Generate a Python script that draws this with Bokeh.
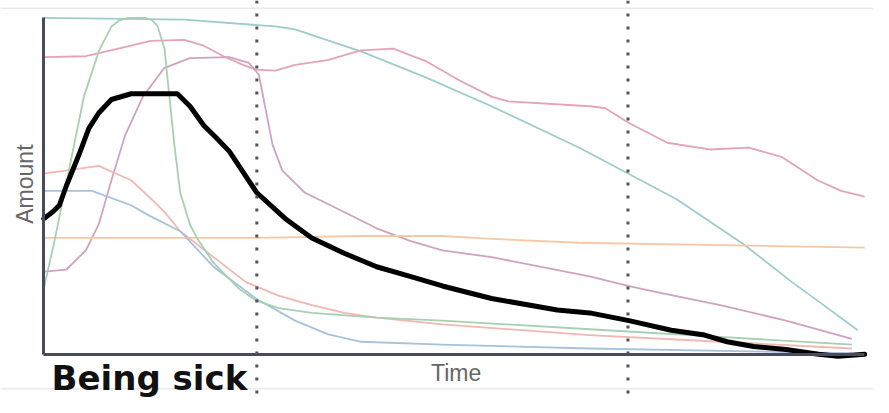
from bokeh.plotting import figure
from bokeh.models import Range1d, LinearAxis, FixedTicker, Span, Label
from bokeh.embed import file_html
from bokeh.resources import INLINE

# Series: time (0-100) and amount (0-100)
black_t = [0, 1.08, 1.91, 2.75, 4.31, 5.50, 6.70, 8.25, 10.65, 16.27, 17.82, 19.50, 21.05, 22.61,
           25.96, 29.43, 32.66, 36.60, 40.55, 44.62, 48.56, 54.55, 62.56, 66.51, 71.29, 76.44,
           80.50, 83.25, 86.48, 90.43, 94.38, 96.77, 100]
black_a = [40.29, 42.29, 44.29, 50.0, 59.43, 67.14, 71.71, 75.71, 77.43, 77.43, 73.71, 68.0, 64.29, 60.29,
           48.0, 40.29, 34.57, 30.0, 26.0, 23.14, 20.29, 16.57, 13.14, 12.29, 10.0, 7.14,
           5.71, 3.71, 2.29, 1.43, 0.0, -0.57, 0.0]

green_t = [0, 1.32, 2.51, 3.71, 4.90, 6.70, 8.25, 9.20, 10.29, 12.32, 13.20, 13.88, 14.71, 15.31, 15.91,
           16.63, 17.82, 18.66, 20.69, 23.80, 25.84, 28.59, 32.66, 40.55, 48.56, 66.51, 82.42, 98.44]
green_a = [19.43, 33.71, 48.0, 62.29, 76.57, 90.0, 97.43, 99.2, 100.0, 100.0, 99.3, 97.43, 90.86, 76.57,
           62.29, 48.0, 38.57, 34.57, 27.14, 19.43, 16.0, 13.71, 12.29, 10.86, 10.0, 7.43, 5.14, 2.86]

teal_t = [0, 17.11, 28.23, 30.62, 38.64, 46.53, 54.55, 65.19, 71.17, 77.15, 85.17, 91.15, 94.38, 99.16]
teal_a = [100.0, 99.43, 97.43, 96.57, 90.0, 82.29, 73.71, 61.43, 53.71, 46.0, 32.86, 21.43, 15.71, 7.14]

rose_t = [0, 5.14, 9.09, 13.04, 17.11, 19.50, 21.89, 24.28, 25.84, 28.23, 30.62, 34.57, 38.64, 42.58,
          46.53, 50.60, 54.55, 56.58, 66.51, 68.42, 71.17, 75.96, 81.10, 85.89, 89.95, 94.26, 97.13, 100]
rose_a = [88.29, 88.57, 90.86, 93.14, 93.43, 91.71, 88.57, 86.0, 84.57, 84.29, 86.0, 87.43, 90.29, 90.86,
          87.14, 81.43, 76.57, 75.14, 73.71, 73.14, 68.86, 62.86, 60.86, 61.43, 58.57, 51.71, 48.57, 46.86]

mauve_t = [0, 2.75, 5.14, 6.70, 8.25, 9.93, 12.08, 14.71, 17.82, 22.61, 25.0, 26.20, 27.03, 27.87,
           29.07, 30.62, 31.82, 36.60, 40.55, 44.62, 48.56, 54.55, 66.51, 71.17, 74.52, 82.42, 90.43, 98.44]
mauve_a = [24.57, 25.14, 30.86, 38.57, 51.71, 65.14, 76.57, 85.14, 88.0, 88.29, 86.57, 83.14, 72.86, 62.29,
           54.57, 50.86, 48.0, 42.29, 37.43, 33.71, 30.86, 28.86, 23.14, 20.29, 18.57, 14.57, 10.0, 4.57]

orange_t = [0, 25.96, 38.64, 48.56, 54.55, 65.19, 100]
orange_a = [34.57, 34.57, 35.14, 35.14, 34.29, 33.14, 31.71]

salmon_t = [0, 6.70, 10.65, 12.68, 14.71, 16.63, 20.69, 24.64, 28.59, 32.66, 36.60, 40.55, 48.56,
            66.51, 82.42, 98.44]
salmon_a = [53.71, 56.0, 51.71, 47.14, 42.29, 36.57, 28.86, 21.43, 17.43, 14.57, 12.29, 10.86, 8.86,
            5.71, 3.71, 1.71]

blue_t = [0, 5.86, 10.65, 12.68, 16.63, 20.69, 25.84, 30.62, 34.57, 38.64, 48.56, 66.51, 98.44]
blue_a = [48.57, 48.57, 44.29, 41.43, 36.57, 26.0, 16.57, 10.0, 6.0, 3.71, 2.86, 1.71, 0.29]

phase_marks = [25.96, 71.17]

p = figure(width=873, height=397, output_backend="svg", toolbar_location=None,
           x_range=Range1d(-5.263, 101.077), y_range=Range1d(-12.858, 105.14),
           x_axis_location=None, y_axis_location=None, min_border=0)
p.grid.visible = False
p.outline_line_color = None
p.background_fill_color = "white"
p.border_fill_color = "white"

for loc in [102.86, -10.3]:
    p.add_layout(Span(location=loc, dimension="width", line_color="#dedede", line_width=1))

for xm in phase_marks:
    p.add_layout(Span(location=xm, dimension="height", line_color="#555555",
                      line_width=3, line_dash="3 10"))

thin = [
    (teal_t, teal_a, "#9ccccc"),
    (rose_t, rose_a, "#e3a3b8"),
    (mauve_t, mauve_a, "#cfa3bf"),
    (orange_t, orange_a, "#f5c9a8"),
    (salmon_t, salmon_a, "#f0b8b0"),
    (blue_t, blue_a, "#a6c2dc"),
    (green_t, green_a, "#a6d0b2"),
]
for xs, ys, c in thin:
    p.line(xs, ys, line_color=c, line_width=1.8, line_join="round")

p.line(black_t, black_a, line_color="black", line_width=5, line_join="round", line_cap="round")

xa = LinearAxis(fixed_location=0, bounds=(0, 100), ticker=FixedTicker(ticks=[]),
                axis_line_color="#4a4a5e", axis_line_width=3,
                major_tick_line_color=None, minor_tick_line_color=None,
                major_label_text_font_size="0px")
ya = LinearAxis(fixed_location=0, bounds=(0, 100), ticker=FixedTicker(ticks=[]),
                axis_line_color="#4a4a5e", axis_line_width=3,
                major_tick_line_color=None, minor_tick_line_color=None,
                major_label_text_font_size="0px")
p.add_layout(xa, "below")
p.add_layout(ya, "left")

p.add_layout(Label(x=-2.27, y=50.57, text="Amount", angle=1.5708, text_align="center",
                   text_baseline="middle", text_font="Liberation Sans", text_font_size="23px",
                   text_color="#666666"))
p.add_layout(Label(x=50.24, y=-5.6, text="Time", text_align="center",
                   text_baseline="middle", text_font="Liberation Sans", text_font_size="23px",
                   text_color="#666666"))
p.add_layout(Label(x=0.96, y=-7.0, text="Being sick", text_align="left",
                   text_baseline="middle", text_font="DejaVu Sans", text_font_style="bold",
                   text_font_size="34px", text_color="#111111"))

open("out.html", "w").write(file_html(p, INLINE))
